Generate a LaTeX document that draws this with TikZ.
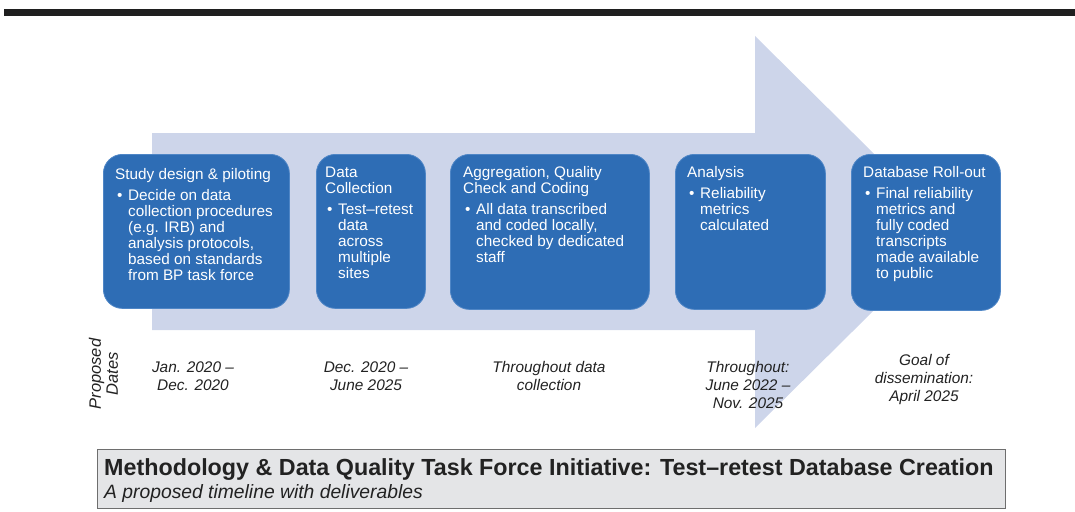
\documentclass[tikz,border=0pt]{standalone}
\usepackage{fontspec}
\setmainfont{Liberation Sans}
\definecolor{arrowc}{HTML}{CDD5EA}
\definecolor{boxc}{HTML}{2E6DB5}
\definecolor{boxedge}{HTML}{4F86C6}
\definecolor{capfill}{HTML}{E4E5E7}
\definecolor{capedge}{HTML}{6E6E6E}
\definecolor{txtc}{HTML}{222222}
\newcommand\bul{\makebox[13pt][l]{\hspace{2pt}\textbullet}}
\begin{document}
\begin{tikzpicture}[x=1pt,y=-1pt,
  stage/.style={draw=boxedge, line width=0.8pt, fill=boxc, rounded corners=19pt, anchor=north west, inner sep=0pt},
  stagetxt/.style={anchor=base west, inner sep=0pt, text=white, font=\fontsize{15.3}{16}\selectfont},
  datetxt/.style={anchor=base, inner sep=0pt, text=txtc, font=\fontsize{15.4}{18}\selectfont\itshape}]
\useasboundingbox (0,0) rectangle (1075,511);
% top rule
\fill[black!88] (4,9) rectangle (1075,16);
% big background arrow
\fill[arrowc] (152,133) -- (755,133) -- (755,36) -- (953,232) -- (755,428) -- (755,330) -- (152,330) -- cycle;
% stage boxes
\node[stage, minimum width=186pt, minimum height=154pt] (b1) at (103,154) {};
\node[stage, minimum width=109pt, minimum height=154pt] (b2) at (316,154) {};
\node[stage, minimum width=199pt, minimum height=155pt] (b3) at (450,154) {};
\node[stage, minimum width=150pt, minimum height=155pt] (b4) at (675,154) {};
\node[stage, minimum width=149pt, minimum height=156pt] (b5) at (851,154) {};
% stage texts
\node[stagetxt] (t1) at (115,179) {\begin{tabular}[t]{@{}l@{}l@{}}
\multicolumn{2}{@{}l@{}}{Study design \& piloting}\\[5pt]
\bul & Decide on data\\
 & collection procedures\\
 & (e.g. IRB) and\\
 & analysis protocols,\\
 & based on standards\\
 & from BP task force
\end{tabular}};
\node[stagetxt] (t2) at (325,177) {\begin{tabular}[t]{@{}l@{}l@{}}
\multicolumn{2}{@{}l@{}}{Data}\\
\multicolumn{2}{@{}l@{}}{Collection}\\[5pt]
\bul & Test–retest\\
 & data\\
 & across\\
 & multiple\\
 & sites
\end{tabular}};
\node[stagetxt] (t3) at (463,177) {\begin{tabular}[t]{@{}l@{}l@{}}
\multicolumn{2}{@{}l@{}}{Aggregation,\ Quality}\\
\multicolumn{2}{@{}l@{}}{Check and Coding}\\[5pt]
\bul & All data transcribed\\
 & and coded locally,\\
 & checked by dedicated\\
 & staff
\end{tabular}};
\node[stagetxt] (t4) at (687,177) {\begin{tabular}[t]{@{}l@{}l@{}}
\multicolumn{2}{@{}l@{}}{Analysis}\\[5pt]
\bul & Reliability\\
 & metrics\\
 & calculated
\end{tabular}};
\node[stagetxt] (t5) at (863,177) {\begin{tabular}[t]{@{}l@{}l@{}}
\multicolumn{2}{@{}l@{}}{Database Roll-out}\\[5pt]
\bul & Final reliability\\
 & metrics and\\
 & fully coded\\
 & transcripts\\
 & made available\\
 & to public
\end{tabular}};
% proposed dates
\node[inner sep=0pt, rotate=90, text=txtc, font=\fontsize{16.5}{17}\selectfont\itshape] (pd) at (106,374)
  {\begin{tabular}{@{}c@{}}Proposed\\Dates\end{tabular}};
\node[datetxt] (d1) at (193,372) {\begin{tabular}[t]{@{}c@{}}Jan. 2020 –\\Dec. 2020\end{tabular}};
\node[datetxt] (d2) at (366,372) {\begin{tabular}[t]{@{}c@{}}Dec. 2020 –\\June 2025\end{tabular}};
\node[datetxt] (d3) at (549,372) {\begin{tabular}[t]{@{}c@{}}Throughout data\\collection\end{tabular}};
\node[datetxt] (d4) at (748,372) {\begin{tabular}[t]{@{}c@{}}Throughout:\\June 2022 –\\Nov. 2025\end{tabular}};
\node[datetxt] (d5) at (924,365) {\begin{tabular}[t]{@{}c@{}}Goal of\\dissemination:\\April 2025\end{tabular}};
% caption
\draw[draw=capedge, line width=0.9pt, fill=capfill] (97,449) rectangle (1005,508);
\node[anchor=base west, inner sep=0pt, text=txtc, font=\fontsize{23.3}{24}\selectfont\bfseries] (cap) at (104,475)
  {Methodology \& Data Quality Task Force Initiative: Test–retest Database Creation};
\node[anchor=base west, inner sep=0pt, text=txtc, font=\fontsize{19.3}{20}\selectfont\itshape] (sub) at (104,498)
  {A proposed timeline with deliverables};
\end{tikzpicture}
\end{document}
